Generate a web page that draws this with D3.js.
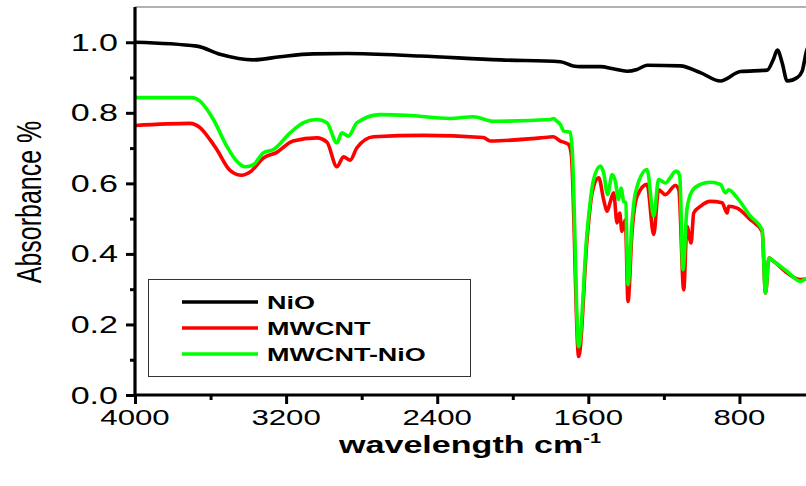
<!DOCTYPE html>
<html>
<head>
<meta charset="utf-8">
<script src="https://cdn.jsdelivr.net/npm/d3@7"></script>
<style>
  body { margin: 0; background: #fff; }
  svg { display: block; }
  text { font-family: "Liberation Sans", Arial, sans-serif; }
</style>
</head>
<body>
<div id="canvas"></div>
<script>
// wavenumbers (cm-1) and absorbance
const nioWn = [4000, 3673, 3550, 3375, 3232, 3057, 2878, 2490, 2066, 1748, 1680, 1642, 1536, 1468, 1395, 1342, 1289, 1113, 1007, 901, 795, 653, 620, 599, 574, 547, 494, 468, 445, 420];
const nioAbs = [1.0, 0.989, 0.966, 0.950, 0.959, 0.967, 0.968, 0.961, 0.950, 0.945, 0.933, 0.931, 0.931, 0.925, 0.918, 0.923, 0.935, 0.933, 0.914, 0.890, 0.917, 0.921, 0.952, 0.978, 0.942, 0.890, 0.900, 0.918, 0.975, 1.0];

const mwcntWn = [4000, 3709, 3656, 3603, 3567, 3497, 3435, 3391, 3320, 3249, 3163, 3037, 2984, 2931, 2896, 2861, 2825, 2737, 2474, 2156, 2119, 1854, 1785, 1748, 1721, 1704, 1690, 1651, 1607, 1580, 1545, 1519, 1501, 1483, 1466, 1448, 1434, 1422, 1404, 1390, 1369, 1342, 1289, 1254, 1228, 1192, 1139, 1121, 1095, 1078, 1056, 1042, 1007, 954, 892, 865, 857, 812, 742, 680, 662, 644, 619, 547, 477, 450, 420];
const mwcntAbs = [0.764, 0.770, 0.758, 0.724, 0.696, 0.637, 0.623, 0.632, 0.672, 0.688, 0.720, 0.729, 0.717, 0.647, 0.675, 0.666, 0.701, 0.732, 0.736, 0.730, 0.720, 0.729, 0.732, 0.720, 0.715, 0.710, 0.680, 0.109, 0.440, 0.573, 0.616, 0.554, 0.521, 0.549, 0.573, 0.488, 0.516, 0.464, 0.497, 0.265, 0.459, 0.563, 0.597, 0.455, 0.582, 0.568, 0.594, 0.582, 0.298, 0.478, 0.431, 0.516, 0.535, 0.549, 0.545, 0.516, 0.535, 0.530, 0.497, 0.464, 0.289, 0.388, 0.379, 0.346, 0.327, 0.329, 0.330];

const hybridWn = [4000, 3700, 3656, 3585, 3514, 3461, 3417, 3373, 3320, 3267, 3179, 3108, 3037, 2984, 2931, 2905, 2870, 2825, 2702, 2561, 2331, 2209, 2103, 1801, 1785, 1766, 1748, 1730, 1695, 1686, 1651, 1607, 1572, 1536, 1519, 1498, 1474, 1457, 1440, 1427, 1413, 1402, 1390, 1369, 1351, 1289, 1254, 1228, 1192, 1166, 1139, 1130, 1116, 1099, 1078, 1051, 1007, 954, 901, 874, 857, 812, 742, 680, 662, 644, 619, 547, 477, 450, 420];
const hybridAbs = [0.843, 0.843, 0.833, 0.781, 0.705, 0.663, 0.647, 0.653, 0.687, 0.696, 0.743, 0.772, 0.781, 0.772, 0.715, 0.743, 0.734, 0.772, 0.795, 0.793, 0.784, 0.789, 0.776, 0.781, 0.784, 0.776, 0.767, 0.748, 0.745, 0.700, 0.137, 0.459, 0.611, 0.649, 0.630, 0.568, 0.625, 0.606, 0.554, 0.587, 0.549, 0.545, 0.3125, 0.488, 0.573, 0.639, 0.507, 0.611, 0.601, 0.616, 0.634, 0.634, 0.620, 0.355, 0.526, 0.578, 0.597, 0.603, 0.597, 0.573, 0.582, 0.559, 0.507, 0.469, 0.289, 0.388, 0.379, 0.350, 0.322, 0.329, 0.330];

const seriesNames = ["NiO", "MWCNT", "MWCNT-NiO"];
const seriesColors = ["#000000", "#ff0000", "#00ff00"];
const xTicks = [4000, 3200, 2400, 1600, 800];
const xMinorTicks = [3600, 2800, 2000, 1200, 400];
const yTicks = [0.0, 0.2, 0.4, 0.6, 0.8, 1.0];
const yMinorTicks = [0.1, 0.3, 0.5, 0.7, 0.9];

const width = 806;
const height = 486;
const margin = { top: 7, left: 135, bottom: 91, right: -9 };
const iwidth = width - margin.left - margin.right;
const iheight = height - margin.top - margin.bottom;
const stretch = 1.42; // text in the figure is widened

const svg = d3.select("#canvas").append("svg")
    .attr("width", width)
    .attr("height", height);

const x = d3.scaleLinear().domain([4000, 400]).range([0, iwidth]);
const y = d3.scaleLinear().domain([0, 1.1]).range([iheight, 0]);

const g1 = svg.append("g").attr("transform", `translate(${margin.left},${margin.top})`);

g1.append("clipPath").attr("id", "plot-clip")
    .append("rect")
    .attr("x", 0).attr("y", -2)
    .attr("width", iwidth).attr("height", iheight + 2);

// top frame
g1.append("line")
    .attr("x1", 0).attr("x2", iwidth)
    .attr("y1", 0).attr("y2", 0)
    .attr("stroke", "#999")
    .attr("stroke-width", 1.5);

const series = [
  nioWn.map((w, i) => [w, nioAbs[i]]),
  mwcntWn.map((w, i) => [w, mwcntAbs[i]]),
  hybridWn.map((w, i) => [w, hybridAbs[i]])
];

const line = d3.line()
    .x(d => x(d[0]))
    .y(d => y(d[1]))
    .curve(d3.curveMonotoneX);

g1.append("g").attr("clip-path", "url(#plot-clip)")
  .selectAll("path").data(series)
  .enter().append("path")
    .attr("d", line)
    .attr("fill", "none")
    .attr("stroke", (d, i) => seriesColors[i])
    .attr("stroke-width", 3.6)
    .attr("stroke-linejoin", "round");

// axes
const xAxis = g1.append("g")
    .attr("transform", `translate(0,${iheight})`)
    .call(d3.axisBottom(x).tickValues(xTicks).tickSize(9).tickFormat(""));
g1.append("g")
    .attr("transform", `translate(0,${iheight})`)
    .call(d3.axisBottom(x).tickValues(xMinorTicks).tickSize(5).tickFormat(""))
    .select(".domain").remove();

const yAxis = g1.append("g")
    .call(d3.axisLeft(y).tickValues(yTicks).tickSize(9).tickFormat(""));
g1.append("g")
    .call(d3.axisLeft(y).tickValues(yMinorTicks).tickSize(5).tickFormat(""))
    .select(".domain").remove();

g1.selectAll(".domain").attr("stroke-width", 3.2).attr("stroke", "#000");
g1.selectAll(".tick line").attr("stroke-width", 3).attr("stroke", "#000");
xAxis.select(".domain").attr("d", `M0,0H${iwidth}`);
yAxis.select(".domain").attr("d", `M0,${iheight + 1.5}V0`);

// tick labels
g1.selectAll(".xlab").data(xTicks)
  .enter().append("text")
    .attr("transform", d => `translate(${x(d)},${iheight + 30}) scale(${stretch},1)`)
    .attr("text-anchor", "middle")
    .style("font-size", "22px")
    .text(d => d);

g1.selectAll(".ylab").data(yTicks)
  .enter().append("text")
    .attr("transform", d => `translate(-17,${y(d) + 8.5}) scale(${stretch},1)`)
    .attr("text-anchor", "end")
    .style("font-size", "24px")
    .text(d => d.toFixed(1));

// axis titles
const xTitle = svg.append("text")
    .attr("transform", `translate(470,453) scale(${stretch},1)`)
    .attr("text-anchor", "middle")
    .style("font-size", "24px")
    .style("font-weight", "bold");
xTitle.append("tspan").text("wavelength cm");
xTitle.append("tspan").attr("dy", -10).style("font-size", "14px").text("-1");

svg.append("text")
    .attr("transform", `translate(41,202) rotate(-90) scale(1,${stretch})`)
    .attr("text-anchor", "middle")
    .style("font-size", "25px")
    .text("Absorbance %");

// legend
const legend = svg.append("g");
legend.append("rect")
    .attr("x", 148.5).attr("y", 279.5)
    .attr("width", 322).attr("height", 97)
    .attr("fill", "#fff")
    .attr("stroke", "#333")
    .attr("stroke-width", 1);

const items = legend.selectAll(".item").data(seriesNames)
  .enter().append("g")
    .attr("transform", (d, i) => `translate(0,${302 + i * 26})`);
items.append("line")
    .attr("x1", 182).attr("x2", 258)
    .attr("stroke", (d, i) => seriesColors[i])
    .attr("stroke-width", 3.6);
items.append("text")
    .attr("transform", `translate(267,7) scale(${stretch},1)`)
    .style("font-size", "19px")
    .style("font-weight", "bold")
    .text(d => d);
</script>
</body>
</html>
